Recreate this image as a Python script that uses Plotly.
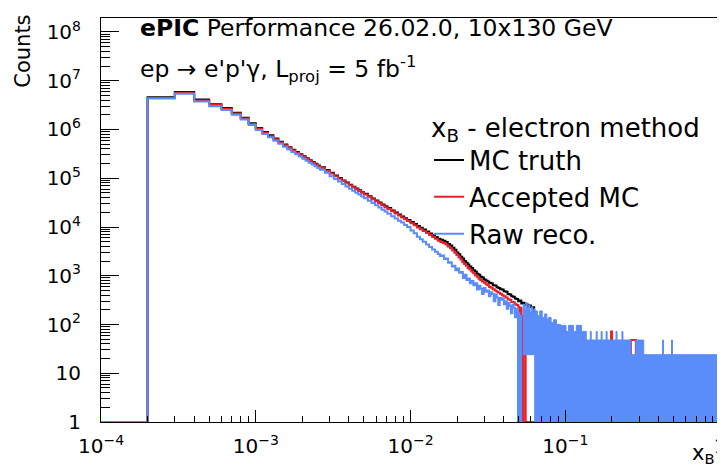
import plotly.graph_objects as go

# common bin low edges of the smooth part of the xB histograms
grid_x = [0.0001, 0.0002, 0.0003, 0.0004, 0.0005, 0.0006, 0.0007, 0.0008, 0.0009, 0.0010,
          0.0011, 0.0012, 0.0013, 0.0014, 0.0015, 0.0016, 0.0017, 0.0018, 0.0019, 0.0020,
          0.0021, 0.0022, 0.0023, 0.0024, 0.0025, 0.0026, 0.0028, 0.0030, 0.0032, 0.0034,
          0.0036, 0.0038, 0.0040, 0.0042, 0.0044, 0.0046, 0.0048, 0.0050, 0.0053, 0.0056,
          0.0059, 0.0062, 0.0065, 0.0068, 0.0071, 0.0075, 0.0079, 0.0083, 0.0087, 0.0091,
          0.0095, 0.0100, 0.0105, 0.0110, 0.0115, 0.0120, 0.0126, 0.0132, 0.0138, 0.0144]
mc_grid = [0, 4.6e6, 5.9e6, 4.1e6, 3.3e6, 2.75e6, 2.2e6, 1.75e6, 1.35e6, 1.07e6,
           8.9e5, 7.6e5, 6.5e5, 5.6e5, 4.9e5, 4.33e5, 3.85e5, 3.44e5, 3.10e5, 2.81e5,
           2.56e5, 2.34e5, 2.15e5, 1.98e5, 1.83e5, 1.69e5, 1.47e5, 1.29e5, 1.14e5, 1.01e5,
           9.04e4, 8.15e4, 7.38e4, 6.72e4, 6.14e4, 5.64e4, 5.19e4, 4.80e4, 4.29e4, 3.85e4,
           3.48e4, 3.17e4, 2.89e4, 2.65e4, 2.44e4, 2.19e4, 1.99e4, 1.80e4, 1.65e4, 1.51e4,
           1.39e4, 1.26e4, 1.15e4, 1.05e4, 9.6e3, 8.85e3, 8.05e3, 7.37e3, 6.76e3, 6.23e3]
acc_grid = [0, 4.45e6, 5.7e6, 3.95e6, 3.2e6, 2.65e6, 2.12e6, 1.69e6, 1.3e6, 1.03e6,
            8.6e5, 7.3e5, 6.3e5, 5.4e5, 4.75e5, 4.2e5, 3.73e5, 3.33e5, 3.0e5, 2.72e5,
            2.48e5, 2.27e5, 2.08e5, 1.92e5, 1.77e5, 1.64e5, 1.42e5, 1.25e5, 1.1e5, 9.8e4,
            8.75e4, 7.9e4, 7.15e4, 6.5e4, 5.95e4, 5.45e4, 5.02e4, 4.64e4, 4.15e4, 3.72e4,
            3.36e4, 3.06e4, 2.79e4, 2.55e4, 2.35e4, 2.1e4, 1.9e4, 1.72e4, 1.57e4, 1.44e4,
            1.32e4, 1.19e4, 1.08e4, 9.8e3, 9.0e3, 8.25e3, 7.5e3, 6.85e3, 6.25e3, 5.75e3]
reco_grid = [0, 4.3e6, 5.4e6, 3.75e6, 3.0e6, 2.5e6, 2.0e6, 1.6e6, 1.23e6, 9.8e5,
             8.1e5, 6.9e5, 5.9e5, 5.1e5, 4.45e5, 3.9e5, 3.47e5, 3.1e5, 2.78e5, 2.52e5,
             2.29e5, 2.09e5, 1.91e5, 1.76e5, 1.62e5, 1.49e5, 1.29e5, 1.10e5, 9.7e4, 8.6e4,
             7.6e4, 6.8e4, 6.1e4, 5.55e4, 5.05e4, 4.62e4, 4.24e4, 3.9e4, 3.46e4, 3.1e4,
             2.78e4, 2.5e4, 2.27e4, 2.07e4, 1.88e4, 1.67e4, 1.5e4, 1.35e4, 1.23e4, 1.1e4,
             1.0e4, 8.5e3, 7.4e3, 6.3e3, 5.6e3, 5.0e3, 4.4e3, 3.9e3, 3.45e3, 3.1e3]

# noisy high-xB part of each histogram: bin low edges and counts (0 = empty bin)
mc_hi_x = [0.0150, 0.0156, 0.0162, 0.0168, 0.0174, 0.0180, 0.0186, 0.0192, 0.0198, 0.0204,
           0.0210, 0.0216, 0.0222, 0.0228, 0.0234, 0.0240, 0.0247, 0.0254, 0.0261, 0.0268,
           0.0275, 0.0282, 0.0290, 0.0298, 0.0306, 0.0314, 0.0322, 0.0330, 0.0340, 0.0350,
           0.0360, 0.0370, 0.0380, 0.0390, 0.0400, 0.0412, 0.0424, 0.0436, 0.0448, 0.0460,
           0.0472, 0.0484, 0.0496, 0.0508, 0.0520, 0.0532, 0.0545, 0.0558, 0.0571, 0.0584,
           0.0600, 0.0630, 0.0660, 0.0700, 0.0740, 0.0780, 0.0830, 0.0880, 0.0932, 0.1000]
mc_hi_y = [5.76e3, 5.5e3, 5.2e3, 4.95e3, 4.5e3, 4.15e3, 3.75e3, 3.4e3, 3.0e3, 2.75e3,
           2.45e3, 2.25e3, 2.0e3, 1.85e3, 1.7e3, 1.55e3, 1.45e3, 1.3e3, 1.22e3, 1.1e3,
           1.05e3, 950, 920, 840, 800, 760, 720, 700, 640, 630,
           580, 560, 530, 520, 480, 470, 420, 410, 380, 370,
           340, 335, 300, 310, 270, 280, 250, 260, 230, 245,
           225, 150, 120, 115, 110, 100, 95, 90, 90, 0]

acc_hi_x = [0.0150, 0.0156, 0.0162, 0.0168, 0.0174, 0.0180, 0.0186, 0.0192, 0.0198, 0.0204,
            0.0210, 0.0216, 0.0222, 0.0228, 0.0234, 0.0240, 0.0247, 0.0254, 0.0261, 0.0268,
            0.0275, 0.0282, 0.0290, 0.0298, 0.0306, 0.0314, 0.0322, 0.0330, 0.0340, 0.0350,
            0.0360, 0.0370, 0.0380, 0.0390, 0.0400, 0.0412, 0.0424, 0.0436, 0.0448, 0.0460,
            0.0472, 0.0484, 0.0496, 0.0505, 0.0512, 0.0522, 0.0538, 0.0555, 0.0649, 0.0658,
            0.0717, 0.0726, 0.1977, 0.2006, 0.2655, 0.2858]
acc_hi_y = [5.25e3, 4.9e3, 4.7e3, 4.35e3, 4.0e3, 3.65e3, 3.3e3, 2.95e3, 2.65e3, 2.4e3,
            2.15e3, 1.9e3, 1.75e3, 1.6e3, 1.45e3, 1.35e3, 1.22e3, 1.12e3, 1.02e3, 950,
            870, 820, 760, 720, 670, 640, 590, 570, 530, 500,
            470, 450, 420, 400, 380, 360, 330, 320, 290, 285,
            260, 250, 230, 45, 220, 0, 150, 0, 100, 0,
            90, 0, 72, 0, 48, 0]

reco_hi_x = [0.0150, 0.0155, 0.0160, 0.0165, 0.0170, 0.0175, 0.0180, 0.0185, 0.0190, 0.0195,
             0.0200, 0.0206, 0.0212, 0.0218, 0.0224, 0.0230, 0.0236, 0.0242, 0.0248, 0.0255,
             0.0262, 0.0269, 0.0276, 0.0283, 0.0290, 0.0297, 0.0305, 0.0313, 0.0321, 0.0329,
             0.0337, 0.0345, 0.0353, 0.0361, 0.0369, 0.0377, 0.0385, 0.0393, 0.0401, 0.0410,
             0.0419, 0.0428, 0.0437, 0.0446, 0.0455, 0.0464, 0.0473, 0.0482, 0.0490, 0.0495,
             0.0500, 0.0505, 0.0512, 0.0518]
reco_hi_y = [2.8e3, 2.55e3, 2.6e3, 2.2e3, 2.25e3, 1.85e3, 1.9e3, 1.55e3, 1.6e3, 1.3e3,
             1.4e3, 1.15e3, 1.2e3, 900, 1.05e3, 820, 880, 700, 780, 640,
             700, 520, 620, 540, 420, 560, 470, 500, 380, 460,
             420, 300, 410, 360, 250, 350, 320, 340, 260, 300,
             210, 280, 240, 170, 250, 220, 140, 210, 190, 0,
             170, 0, 150, 0]

# raw reco. tail, where bins alternate faster than a pixel: lower/upper count per segment
tail_x = [0.0532, 0.0545, 0.0556, 0.0568, 0.0580, 0.0592, 0.0604, 0.0616, 0.0626, 0.0635,
          0.0660, 0.0684, 0.0710, 0.0736, 0.0760, 0.0781, 0.0810, 0.0841, 0.0879, 0.0932,
          0.1004, 0.1049, 0.1129, 0.1180, 0.1271, 0.1368, 0.1451, 0.1472, 0.1585, 0.1608,
          0.1706, 0.1731, 0.1837, 0.1864, 0.2128, 0.2160, 0.2325, 0.2359, 0.2655, 0.2858,
          0.3215, 0.4254, 0.4317, 0.4859, 0.4931]
tail_top = [260, 200, 280, 210, 250, 180, 230, 170, 210, 190,
            150, 190, 140, 165, 130, 140, 110, 125, 100, 96,
            72, 96, 72, 96, 72, 48, 72, 48, 72, 48,
            72, 48, 72, 48, 72, 48, 72, 48, 24, 48,
            24, 48, 24, 48, 24]
tail_low = [24, 24, 24, 24, 24, 24, 24, 24, 24, 0,
            0, 0, 0, 0, 0, 0, 0, 0, 0, 0,
            0, 0, 0, 0, 0, 0, 0, 0, 0, 0,
            0, 0, 0, 0, 0, 0, 0, 0, 0, 0,
            0, 0, 0, 0, 0]
x_last = 1.0

x_ticks = [1e-4, 1e-3, 1e-2, 1e-1, 1]
x_labels = ["10<sup>\u22124</sup>", "10<sup>\u22123</sup>", "10<sup>\u22122</sup>",
            "10<sup>\u22121</sup>", "1"]
y_ticks = [1, 10, 1e2, 1e3, 1e4, 1e5, 1e6, 1e7, 1e8]
y_labels = ["1", "10", "10<sup>2</sup>", "10<sup>3</sup>", "10<sup>4</sup>",
            "10<sup>5</sup>", "10<sup>6</sup>", "10<sup>7</sup>", "10<sup>8</sup>"]

FLOOR = 1.0
BLACK = "#000000"
RED = "#e8202c"
BLUE = "#5a8cfa"


def floor(v):
    return v if v > 0 else FLOOR


def step(xs, ys, end):
    return list(xs) + [end], [floor(v) for v in ys] + [floor(ys[-1])]


def band(edges, top, low):
    xs, ys = [], []
    for i, t in enumerate(top):
        xs += [edges[i], edges[i + 1]]
        ys += [t, t]
    for i in reversed(range(len(low))):
        xs += [edges[i + 1], edges[i]]
        ys += [floor(low[i]), floor(low[i])]
    return xs, ys


def minor_ticks(lo, hi):
    return [m * 10 ** e for e in range(lo, hi) for m in range(2, 10)]


series = [("MC truth", grid_x + mc_hi_x, mc_grid + mc_hi_y, BLACK, x_last),
          ("Accepted MC", grid_x + acc_hi_x, acc_grid + acc_hi_y, RED, x_last),
          ("Raw reco.", grid_x + reco_hi_x, reco_grid + reco_hi_y, BLUE, tail_x[0])]

fig = go.Figure()
for name, xs, ys, col, end in series:
    sx, sy = step(xs, ys, end)
    fig.add_trace(go.Scatter(x=sx, y=sy, mode="lines", name=name,
                             line=dict(color=col, width=2, shape="hv")))

bx, by = band(tail_x + [x_last], tail_top, tail_low)
fig.add_trace(go.Scatter(x=bx, y=by, mode="lines", fill="toself", fillcolor=BLUE,
                         line=dict(color=BLUE, width=1), showlegend=False, hoverinfo="skip"))

axis_style = dict(type="log", showline=True, linecolor="black", linewidth=1, mirror=True,
                  ticks="inside", tickcolor="black", tickwidth=1, showgrid=False,
                  zeroline=False, tickfont=dict(size=20, color="black"))
fig.update_xaxes(range=[-4, 0], tickvals=x_ticks, ticktext=x_labels, ticklen=12,
                 ticklabelstandoff=6,
                 minor=dict(ticks="inside", ticklen=6, tickcolor="black",
                            tickvals=minor_ticks(-4, 0)),
                 **axis_style)
fig.update_yaxes(range=[0, 8.287], tickvals=y_ticks, ticktext=y_labels, ticklen=18,
                 ticklabelstandoff=15,
                 minor=dict(ticks="inside", ticklen=9, tickcolor="black",
                            tickvals=minor_ticks(0, 9)),
                 **axis_style)

fig.add_annotation(text="<b>ePIC</b> Performance 26.02.0, 10x130 GeV", xref="paper", yref="paper",
                   x=0.06, y=0.975, xanchor="left", yanchor="middle", showarrow=False,
                   font=dict(size=23.5))
fig.add_annotation(text="ep \u2192 e'p'\u03b3, L<sub>proj</sub> = 5 fb<sup>-1</sup>",
                   xref="paper", yref="paper", x=0.06, y=0.874, xanchor="left",
                   yanchor="middle", showarrow=False, font=dict(size=23.5))
fig.add_annotation(text="Counts", xref="paper", yref="paper", x=-0.125, y=0.918,
                   xanchor="center", yanchor="middle", textangle=-90, showarrow=False,
                   font=dict(size=21))
fig.add_annotation(text="x<sub>B</sub>", xref="paper", yref="paper", x=0.995, y=-0.08,
                   xanchor="right", yanchor="middle", showarrow=False, font=dict(size=21))

fig.update_layout(
    width=725, height=465,
    margin=dict(l=93, r=7, t=10, b=51),
    paper_bgcolor="white", plot_bgcolor="white",
    font=dict(family="DejaVu Sans", color="black"),
    legend=dict(x=0.53, y=0.79, xanchor="left", yanchor="top", bgcolor="rgba(0,0,0,0)",
                font=dict(size=26), tracegroupgap=0,
                title=dict(text="x<sub>B</sub> - electron method", font=dict(size=26))),
)

fig.write_html("out.html")
